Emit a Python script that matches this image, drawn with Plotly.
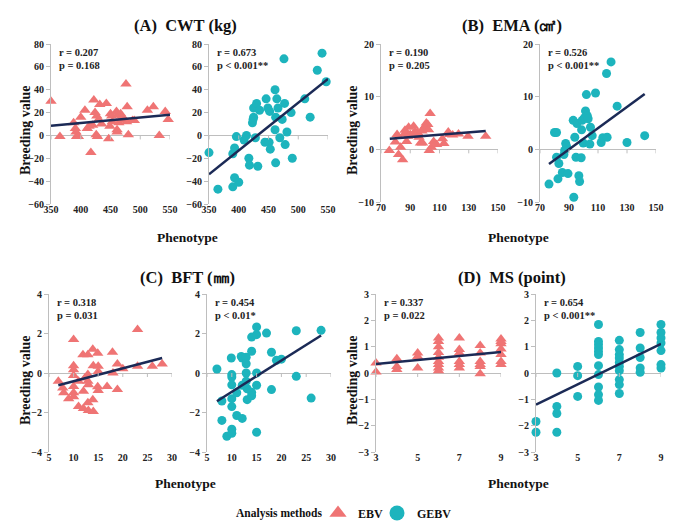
import plotly.graph_objects as go

# ---------------- DATA ----------------
panel_titles = ["(A)  CWT (kg)", "(B)  EMA (㎠)", "(C)  BFT (㎜)", "(D)  MS (point)"]
method_names = ["EBV", "GEBV"]
legend_title = "Analysis methods"
x_label = "Phenotype"
y_label = "Breeding value"

# (A) CWT
cwt_ebv_x = [350, 365, 388, 391, 392, 393, 396, 400, 407, 411, 414, 417, 420, 422, 424, 426, 428, 427, 430, 432,
             435, 443, 447, 449, 450, 452, 453, 460, 461, 461, 463, 464, 467, 469, 471, 476, 477, 478, 480, 487,
             490, 512, 522, 532, 542, 547]
cwt_ebv_y = [30, -1, 11, 6, 3, -1, -1, 16, 22, 6, 8, -15, 9, 31, 20, 0.5, -1, 17, 14, 27,
             10, 28, -3, 8, 19, 17, 12, 21, 5, 3, 18, 11, 19, 17, 14, 45, 12, 25, 0.5, 13,
             13, 22, 25, 0, 21, 14]
cwt_gebv_x = [350, 365, 390, 393, 400, 390, 393, 396, 409, 413, 417, 418, 423, 424, 425, 425, 428, 430, 432, 435,
              444, 446, 449, 451, 452, 453, 461, 461, 462, 462, 464, 466, 469, 473, 476, 477, 478, 481, 488, 490,
              511, 520, 532, 540, 547]
cwt_gebv_y = [-15, -47, -45, -37, -41, -16, -11, -1, -4, 0, -20, -26, 11, 14, 16, 24, -2, 28, -27, 22,
              -6, 32, 24, -6, 21, -12, 40, 5, 16, -24, 32, 24, -2, 14, 67, 28, -8, 3, 20, -20,
              32, 16, 57, 72, 47]
cwt_ebv_fit_x, cwt_ebv_fit_y = [350, 550], [8.5, 18.2]
cwt_gebv_fit_x, cwt_gebv_fit_y = [350, 550], [-34, 49.5]
cwt_stats = [["r = 0.207", "p = 0.168"], ["r = 0.673", "p < 0.001**"]]

# (B) EMA
ema_ebv_x = [75.7, 79.8, 81, 82, 83.4, 84.8, 86, 86.4, 87.5, 88.2, 88.9, 90, 92.3, 93.2, 93.9, 95, 96, 97, 98, 98.4,
             99.5, 100, 101, 102, 102.5, 103, 103.6, 104.5, 106, 108, 112, 113, 116, 117, 119, 123, 129.5, 141.6]
ema_ebv_y = [-0.2, 1.4, 2.8, -1, 0.4, -2, 2.9, 3.6, 1.5, 2.5, 4.2, 2.8, 4.4, 3.4, 2.9, 3.2, 2.3, 1.2, 3.5, 1.2,
             4.1, 4.4, 5, 4.7, 3.7, -0.2, 6.8, 0.4, 1.5, 0.9, 2, 1.1, 3.3, 2.8, 2.7, 2.9, 2.5, 2.5]
ema_gebv_x = [76.2, 80, 81.4, 81.4, 83, 82.4, 85.4, 86.5, 87, 87.7, 88.3, 89.3, 92.9, 93.3, 94, 94.8, 95.5, 96.8, 97.3,
              98.4, 98.7, 99.1, 99.8, 100.7, 101.4, 102, 102.6, 103.2, 104.4, 104.8, 106, 108.3, 112.2, 113.3,
              116.3, 115.9, 119, 123.2, 130, 142.2]
ema_gebv_y = [-6.6, 3.2, 3.2, -1.5, -2.7, -5.6, -4.4, -1, -0.2, 1.1, 0.6, -4.6, 5.5, -9.1, 2.3, -1.5, 4.9, -5, -6.1,
              -1.6, 3.7, 5.5, 1.2, 6, 7.3, 10.4, 6.4, 5.8, 1, 4.2, 2.6, 10.7, 1.3, 2.2,
              2.3, 14.4, 16.6, 8.2, 1.3, 2.6]
ema_ebv_fit_x, ema_ebv_fit_y = [76, 141.6], [2.0, 3.5]
ema_gebv_fit_x, ema_gebv_fit_y = [76.2, 142.2], [-2.8, 10.5]
ema_stats = [["r = 0.190", "p = 0.205"], ["r = 0.526", "p < 0.001**"]]

# (C) BFT
bft_ebv_x = [6.9, 7.8, 8, 9, 10, 10, 10, 10, 10, 10, 10, 11, 11, 11.9, 12, 12, 12.3, 12.9, 12.9, 12.9, 13,
             12.9, 13, 13.9, 14, 13.9, 14, 14.9, 15, 15, 14.9, 15, 16.8, 17.9, 18, 18.9, 18.9, 20, 23, 23, 26, 28]
bft_ebv_y = [-0.42, -0.76, -1.0, -1.3, 1.7, 0.37, 0.17, -0.13, -0.68, -1.0, -1.2, -1.7, -0.42, 0.93, -0.93, -1.8,
             -0.25, 0.93, -0.08, -0.42, -0.6, -1.5, -1.9, 1.2, 0.37, -1.35, -1.95, 1.0, 0.34, 0.08, -0.7, -0.88,
             -0.68, 1.05, 0.0, 0.45, -0.84, 0.22, 2.2, 0.34, 0.34, 0.45]
bft_gebv_x = [7, 8, 8, 9, 9.9, 10, 10, 10, 10, 10, 10, 10, 11, 11, 11.9, 12.1, 12.1, 12.1, 12.9, 12.9, 12.9, 12.9,
              13.1, 13.1, 14, 14, 14, 14, 15, 15, 15, 15, 15, 17, 18, 18, 19, 20, 23, 23, 26, 28]
bft_gebv_y = [0.2, -1.42, -2.4, -3.2, 0.76, -0.08, -0.2, -0.6, -1.3, -1.7, -2.85, -3.05, -1.0, -2.15, 0.84, 0.76,
              -2.3, -0.62, 0.8, 0.47, 0.0, -0.42, -0.8, -1.35, 1.1, 1.82, -0.98, -1.15, 2.33, 1.94, 0.0, -0.62,
              -3.0, 2.02, 1.05, -0.84, 0.64, 0.7, 2.14, -0.17, -1.27, 2.16]
bft_ebv_fit_x, bft_ebv_fit_y = [6.9, 28], [-0.62, 0.76]
bft_gebv_fit_x, bft_gebv_fit_y = [7, 28], [-1.43, 1.9]
bft_stats = [["r = 0.318", "p = 0.031"], ["r = 0.454", "p < 0.01*"]]

# (D) MS
ms_ebv_x = [3, 3, 4, 4, 4, 5, 5, 5, 6, 6, 6, 6, 6, 6, 6, 6, 6, 7, 7, 7, 7, 7, 7,
            8, 8, 8, 8, 8, 8, 9, 9, 9, 9, 9, 9, 9]
ms_ebv_y = [0.38, 0.04, 0.54, 0.25, 0.13, 0.76, 0.63, 0.19, 1.33, 1.2, 1.0, 0.78, 0.6, 0.44, 0.32, 0.19, 0.09,
            1.33, 0.89, 0.76, 0.44, 0.32, 0.19, 1.04, 0.76, 0.44, 0.32, 0.25, -0.03,
            1.29, 1.2, 1.11, 0.91, 0.7, 0.44, 0.32]
ms_gebv_x = [3, 3, 4, 4, 4, 4, 5, 5, 5, 6, 6, 6, 6, 6, 6, 6, 6, 6, 6, 6,
             7, 7, 7, 7, 7, 7, 7, 7, 7, 7, 8, 8, 8, 8, 8, 9, 9, 9, 9, 9, 9, 9]
ms_gebv_y = [-1.84, -2.25, 0.0, -1.27, -1.54, -2.25, 0.25, -0.1, -0.89,
             1.84, 1.2, 1.08, 0.95, 0.82, 0.7, 0.28, -0.06, -0.53, -0.82, -1.04,
             1.24, 0.89, 0.7, 0.57, 0.4, 0.25, 0.09, -0.25, -0.44, -0.78,
             1.54, 0.95, 0.59, 0.19, 0.03, 1.84, 1.54, 1.33, 1.14, 0.85, 0.32, 0.19]
ms_ebv_fit_x, ms_ebv_fit_y = [3, 9], [0.34, 0.8]
ms_gebv_fit_x, ms_gebv_fit_y = [3, 9], [-1.2, 1.11]
ms_stats = [["r = 0.337", "p = 0.022"], ["r = 0.654", "p < 0.001**"]]

# axis ranges / ticks per panel
x_ranges = [[350, 550], [70, 150], [5, 30], [3, 9]]
x_dticks = [50, 20, 5, 2]
y_ranges = [[-60, 80], [-10, 20], [-4, 4], [-3, 3]]
y_dticks = [20, 10, 2, 1]

# ---------------- STYLE / LAYOUT ----------------
# the page body has an 8px margin, so the figure is drawn 8px in from the window's top-left corner
OFF = 8
W, H = 688 - OFF, 532 - OFF
EBV_COLOR = "#EF7474"
GEBV_COLOR = "#1DB4BD"
LINE_COLOR = "#1B2A56"
AXIS_COLOR = "#BEBEBE"
FONT = "Liberation Serif, Times New Roman, serif"


def px_x(sx):
    return (sx - OFF) / W


def px_y(sy):
    return 1 - (sy - OFF) / H


# subplot boxes in window pixels: (x0, x1, ytop, ybottom)
boxes = [
    (51, 170, 44, 204), (209, 328, 44, 204),
    (381, 498, 44, 202), (540, 656, 44, 202),
    (49, 172, 294, 452), (207, 331, 294, 452),
    (376, 501, 294, 452), (536, 661, 294, 452),
]

panels = [
    (cwt_ebv_x, cwt_ebv_y, cwt_ebv_fit_x, cwt_ebv_fit_y, cwt_gebv_x, cwt_gebv_y, cwt_gebv_fit_x, cwt_gebv_fit_y, cwt_stats),
    (ema_ebv_x, ema_ebv_y, ema_ebv_fit_x, ema_ebv_fit_y, ema_gebv_x, ema_gebv_y, ema_gebv_fit_x, ema_gebv_fit_y, ema_stats),
    (bft_ebv_x, bft_ebv_y, bft_ebv_fit_x, bft_ebv_fit_y, bft_gebv_x, bft_gebv_y, bft_gebv_fit_x, bft_gebv_fit_y, bft_stats),
    (ms_ebv_x, ms_ebv_y, ms_ebv_fit_x, ms_ebv_fit_y, ms_gebv_x, ms_gebv_y, ms_gebv_fit_x, ms_gebv_fit_y, ms_stats),
]

fig = go.Figure()
layout = {}
annotations = []
shapes = []


def ax_name(i, kind):
    return kind if i == 1 else f"{kind}{i}"


for p, panel in enumerate(panels):
    ex, ey, efx, efy, gx, gy, gfx, gfy, stats = panel
    series = [(ex, ey, efx, efy, "triangle-up", EBV_COLOR, 10),
              (gx, gy, gfx, gfy, "circle", GEBV_COLOR, 9)]
    for s, (sx, sy, fx, fy, sym, col, msz) in enumerate(series):
        idx = p * 2 + s + 1
        xa, ya = ax_name(idx, "x"), ax_name(idx, "y")
        fig.add_trace(go.Scatter(x=sx, y=sy, mode="markers", xaxis=xa, yaxis=ya,
                                 marker=dict(symbol=sym, color=col, size=msz, line=dict(width=0)),
                                 showlegend=False, cliponaxis=False))
        fig.add_trace(go.Scatter(x=fx, y=fy, mode="lines", xaxis=xa, yaxis=ya,
                                 line=dict(color=LINE_COLOR, width=2.5), showlegend=False, cliponaxis=False))
        x0, x1, yt, yb = boxes[idx - 1]
        layout[ax_name(idx, "xaxis")] = dict(
            domain=[px_x(x0), px_x(x1)], anchor=ya, range=x_ranges[p], dtick=x_dticks[p], tick0=x_ranges[p][0],
            showgrid=False, zeroline=False, showline=False, ticks="", automargin=False,
            tickfont=dict(family=FONT, size=10, color="#222", weight="bold"), ticklabelstandoff=-2)
        layout[ax_name(idx, "yaxis")] = dict(
            domain=[px_y(yb), px_y(yt)], anchor=xa, range=y_ranges[p], dtick=y_dticks[p], tick0=y_ranges[p][0],
            showgrid=False, zeroline=True, zerolinecolor=AXIS_COLOR, zerolinewidth=1, automargin=False,
            showline=True, linecolor=AXIS_COLOR, linewidth=1, ticks="outside", ticklen=4, tickcolor=AXIS_COLOR,
            tickfont=dict(family=FONT, size=10, color="#222", weight="bold"))
        # small tick marks on the zero line at each x tick
        t = x_ranges[p][0]
        while t <= x_ranges[p][1] + 1e-9:
            shapes.append(dict(type="line", xref=xa, yref=ya, x0=t, x1=t, ysizemode="pixel", yanchor=0,
                               y0=0, y1=-4, line=dict(color=AXIS_COLOR, width=1)))
            t += x_dticks[p]
        # r / p stats
        ry = 52 if p < 2 else 302
        annotations.append(dict(xref="paper", yref="paper", x=px_x(x0 + 6), y=px_y(ry),
                                text=stats[s][0], showarrow=False, xanchor="left", yanchor="middle",
                                font=dict(family=FONT, size=10.5, color="#222", weight="bold")))
        annotations.append(dict(xref="paper", yref="paper", x=px_x(x0 + 6), y=px_y(ry + 13),
                                text=stats[s][1], showarrow=False, xanchor="left", yanchor="middle",
                                font=dict(family=FONT, size=10.5, color="#222", weight="bold")))

# panel titles, axis labels (window pixel centres)
title_pos = [(185, 25), (512, 25), (187, 277), (512, 277)]
xlab_pos = [(187, 237), (518, 237), (185, 483), (518, 483)]
ylab_pos = [(25, 130), (352, 130), (25, 380), (352, 380)]
for p in range(4):
    tx, ty = title_pos[p]
    annotations.append(dict(xref="paper", yref="paper", x=px_x(tx), y=px_y(ty), text=panel_titles[p],
                            showarrow=False, xanchor="center", yanchor="middle",
                            font=dict(family=FONT, size=16.5, color="#111", weight="bold")))
    lx, ly = xlab_pos[p]
    annotations.append(dict(xref="paper", yref="paper", x=px_x(lx), y=px_y(ly), text=x_label,
                            showarrow=False, xanchor="center", yanchor="middle",
                            font=dict(family=FONT, size=13.5, color="#111", weight="bold")))
    yx, yy = ylab_pos[p]
    annotations.append(dict(xref="paper", yref="paper", x=px_x(yx), y=px_y(yy), text=y_label, textangle=-90,
                            showarrow=False, xanchor="center", yanchor="middle",
                            font=dict(family=FONT, size=14, color="#111", weight="bold")))

# legend caption
annotations.append(dict(xref="paper", yref="paper", x=px_x(324), y=px_y(513), text=legend_title,
                        showarrow=False, xanchor="right", yanchor="middle",
                        font=dict(family=FONT, size=11.5, color="#111", weight="bold")))

# legend entries (a blank third entry gives the last label room so it is not clipped)
fig.add_trace(go.Scatter(x=[None], y=[None], mode="markers", name=method_names[0],
                         marker=dict(symbol="triangle-up", color=EBV_COLOR, size=15)))
fig.add_trace(go.Scatter(x=[None], y=[None], mode="markers", name=method_names[1],
                         marker=dict(symbol="circle", color=GEBV_COLOR, size=15)))
fig.add_trace(go.Scatter(x=[None], y=[None], mode="markers", name=" ",
                         marker=dict(symbol="circle", color="rgba(0,0,0,0)", size=1)))

fig.update_layout(
    width=W, height=H, margin=dict(l=0, r=0, t=0, b=0),
    paper_bgcolor="white", plot_bgcolor="white",
    showlegend=True,
    legend=dict(orientation="h", x=px_x(318), y=px_y(513), xanchor="left", yanchor="middle",
                font=dict(family=FONT, size=12, color="#111", weight="bold"),
                itemsizing="trace", itemwidth=30, entrywidth=14, tracegroupgap=0,
                itemclick=False, itemdoubleclick=False, bgcolor="rgba(0,0,0,0)"),
    annotations=annotations, shapes=shapes,
    **layout,
)

fig.write_html("out.html")
